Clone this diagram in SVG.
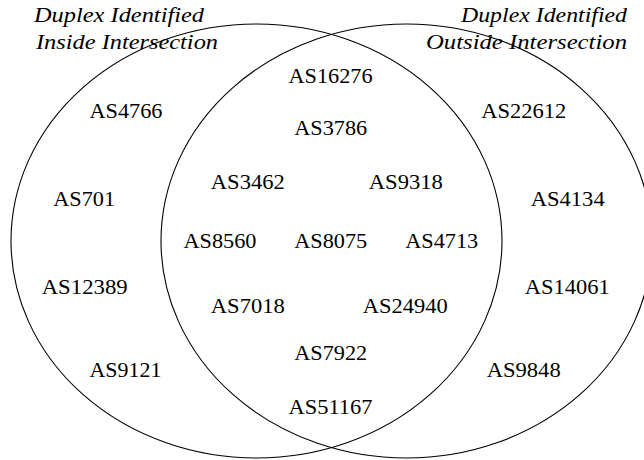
<svg xmlns="http://www.w3.org/2000/svg" width="644" height="460" viewBox="0 0 644 460">
<style>
.set{fill:none;stroke:#000;stroke-width:1.1}
text{font-family:"Liberation Serif","Times New Roman","DejaVu Serif",serif;fill:#000}
.as{font-size:22px;text-anchor:middle}
.title{font-style:italic;font-size:21px}
</style>
<rect width="644" height="460" fill="#fff"/>
<g id="sets">
<ellipse id="set-inside" class="set" cx="256.5" cy="241" rx="245.5" ry="217"/>
<ellipse id="set-outside" class="set" cx="406.5" cy="241" rx="245.5" ry="217"/>
</g>
<g id="titles">
<g id="title-inside">
<text class="title" x="34" y="22" textLength="170" lengthAdjust="spacingAndGlyphs">Duplex Identified</text>
<text class="title" x="36" y="49" textLength="182" lengthAdjust="spacingAndGlyphs">Inside Intersection</text>
</g>
<g id="title-outside">
<text class="title" x="461" y="22" textLength="166" lengthAdjust="spacingAndGlyphs">Duplex Identified</text>
<text class="title" x="426" y="49" textLength="201" lengthAdjust="spacingAndGlyphs">Outside Intersection</text>
</g>
</g>
<g id="left-only">
<g id="n-AS4766"><text class="as" x="126" y="118" textLength="73" lengthAdjust="spacingAndGlyphs">AS4766</text></g>
<g id="n-AS701"><text class="as" x="84.2" y="206" textLength="62" lengthAdjust="spacingAndGlyphs">AS701</text></g>
<g id="n-AS12389"><text class="as" x="84.7" y="294" textLength="86" lengthAdjust="spacingAndGlyphs">AS12389</text></g>
<g id="n-AS9121"><text class="as" x="125.5" y="377" textLength="72" lengthAdjust="spacingAndGlyphs">AS9121</text></g>
</g>
<g id="intersection">
<g id="n-AS16276"><text class="as" x="330.5" y="83" textLength="84" lengthAdjust="spacingAndGlyphs">AS16276</text></g>
<g id="n-AS3786"><text class="as" x="330.7" y="135" textLength="73" lengthAdjust="spacingAndGlyphs">AS3786</text></g>
<g id="n-AS3462"><text class="as" x="247.8" y="189" textLength="74" lengthAdjust="spacingAndGlyphs">AS3462</text></g>
<g id="n-AS9318"><text class="as" x="405.8" y="189" textLength="74" lengthAdjust="spacingAndGlyphs">AS9318</text></g>
<g id="n-AS8560"><text class="as" x="220" y="248.3" textLength="73" lengthAdjust="spacingAndGlyphs">AS8560</text></g>
<g id="n-AS8075"><text class="as" x="330.7" y="248.3" textLength="73" lengthAdjust="spacingAndGlyphs">AS8075</text></g>
<g id="n-AS4713"><text class="as" x="441.7" y="248.3" textLength="73" lengthAdjust="spacingAndGlyphs">AS4713</text></g>
<g id="n-AS7018"><text class="as" x="247.8" y="312.7" textLength="74" lengthAdjust="spacingAndGlyphs">AS7018</text></g>
<g id="n-AS24940"><text class="as" x="405.2" y="312.7" textLength="85" lengthAdjust="spacingAndGlyphs">AS24940</text></g>
<g id="n-AS7922"><text class="as" x="330.7" y="360" textLength="73" lengthAdjust="spacingAndGlyphs">AS7922</text></g>
<g id="n-AS51167"><text class="as" x="330.5" y="414" textLength="84" lengthAdjust="spacingAndGlyphs">AS51167</text></g>
</g>
<g id="right-only">
<g id="n-AS22612"><text class="as" x="523.8" y="118" textLength="85" lengthAdjust="spacingAndGlyphs">AS22612</text></g>
<g id="n-AS4134"><text class="as" x="567.7" y="206" textLength="74" lengthAdjust="spacingAndGlyphs">AS4134</text></g>
<g id="n-AS14061"><text class="as" x="567.3" y="294" textLength="85" lengthAdjust="spacingAndGlyphs">AS14061</text></g>
<g id="n-AS9848"><text class="as" x="523.7" y="377" textLength="74" lengthAdjust="spacingAndGlyphs">AS9848</text></g>
</g>
</svg>
